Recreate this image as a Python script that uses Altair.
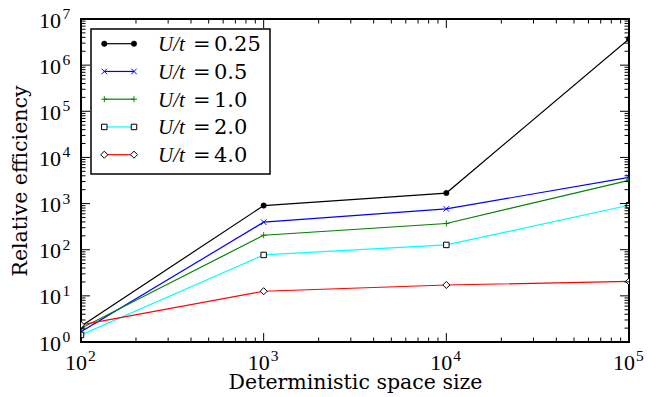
import altair as alt
import pandas as pd

# ---- data ----
x_vals = [100, 1000, 10000, 100000]
series_names = ["0.25", "0.5", "1.0", "2.0", "4.0"]
u025 = [2.2, 905, 1690, 3.7e6]
u05 = [1.67, 395, 767, 3700]
u10 = [1.98, 206, 370, 3200]
u20 = [1.42, 77, 127, 920]
u40 = [2.34, 12.6, 17.2, 20.5]
colors = ["#000000", "#0000ff", "#008000", "#00ffff", "#ff0000"]

x_major = [100, 1000, 10000, 100000]
x_exp = ["2", "3", "4", "5"]
y_major = [1, 10, 100, 1000, 10000, 100000, 1000000, 10000000]
y_exp = ["0", "1", "2", "3", "4", "5", "6", "7"]

x_minor = [m * d for d in x_major[:-1] for m in range(2, 10)]
y_minor = [m * d for d in y_major[:-1] for m in range(2, 10)]

W, H = 548, 323
SERIF = "DejaVu Serif, serif"
NUMF = "Liberation Serif, Times New Roman, serif"

rows = []
for name, vals in zip(series_names, [u025, u05, u10, u20, u40]):
    for xv, yv in zip(x_vals, vals):
        rows.append({"x": xv, "y": yv, "series": name})
df = pd.DataFrame(rows)

xs = alt.Scale(type="log", domain=[100, 100000], nice=False)
ys = alt.Scale(type="log", domain=[1, 10000000], nice=False)
cs = alt.Scale(domain=series_names, range=colors)

xaxis = alt.Axis(title="Deterministic space size", labels=False, ticks=False,
                 domain=False, grid=False, titleY=46, titleBaseline="alphabetic",
                 titleFont=SERIF, titleFontSize=20.5, titleFontWeight="normal",
                 titleColor="black")
yaxis = alt.Axis(title="Relative efficiency", labels=False, ticks=False,
                 domain=False, grid=False, titleX=-55, titleAngle=270,
                 titleBaseline="alphabetic", titleFont=SERIF, titleFontSize=20.5,
                 titleFontWeight="normal", titleColor="black")


def X(f):
    return alt.X(f + ":Q", scale=xs, axis=xaxis)


def Y(f):
    return alt.Y(f + ":Q", scale=ys, axis=yaxis)


base = alt.Chart(df)
lines = base.mark_line(strokeWidth=1.2, clip=True).encode(
    x=X("x"), y=Y("y"),
    color=alt.Color("series:N", scale=cs, legend=None),
    order=alt.Order("x:Q"),
)

XPATH = "M-1,-1L1,1M-1,1L1,-1"
PPATH = "M-1,0L1,0M0,-1L0,1"
marker_styles = {
    "0.25": dict(shape="circle", filled=True, fill="#000000", stroke="#000000", strokeWidth=0.5, size=30),
    "0.5": dict(shape=XPATH, filled=False, stroke="#0000ff", strokeWidth=1, size=30),
    "1.0": dict(shape=PPATH, filled=False, stroke="#008000", strokeWidth=1, size=36),
    "2.0": dict(shape="square", filled=True, fill="#ffffff", stroke="#000000", strokeWidth=1, size=30),
    "4.0": dict(shape="diamond", filled=True, fill="#ffffff", stroke="#000000", strokeWidth=1, size=50),
}

point_layers = []
for name in series_names:
    st = marker_styles[name]
    point_layers.append(
        base.transform_filter(alt.datum.series == name)
        .mark_point(opacity=1, clip=True, **st)
        .encode(x=X("x"), y=Y("y"))
    )


# ticks (inward, all four sides)
def xticks(vals, ln):
    d = alt.Chart(pd.DataFrame({"v": vals}))
    b = d.mark_rule(color="black", strokeWidth=1).encode(x=X("v"), y=alt.value(H), y2=alt.value(H - ln))
    t = d.mark_rule(color="black", strokeWidth=1).encode(x=X("v"), y=alt.value(0), y2=alt.value(ln))
    return [b, t]


def yticks(vals, ln):
    d = alt.Chart(pd.DataFrame({"v": vals}))
    l = d.mark_rule(color="black", strokeWidth=1).encode(y=Y("v"), x=alt.value(0), x2=alt.value(ln))
    r = d.mark_rule(color="black", strokeWidth=1).encode(y=Y("v"), x=alt.value(W), x2=alt.value(W - ln))
    return [l, r]


tick_layers = xticks(x_major, 9) + xticks(x_minor, 4.5) + yticks(y_major, 9) + yticks(y_minor, 4.5)

# tick labels 10^n
xl = alt.Chart(pd.DataFrame({"v": x_major, "e": x_exp}))
yl = alt.Chart(pd.DataFrame({"v": y_major, "e": y_exp}))
label_layers = [
    xl.mark_text(text="10", font=NUMF, fontSize=22, align="right", baseline="alphabetic", dx=6, color="black")
      .encode(x=X("v"), y=alt.value(H + 28)),
    xl.mark_text(font=NUMF, fontSize=15.5, align="left", baseline="alphabetic", dx=7, color="black")
      .encode(x=X("v"), y=alt.value(H + 19), text="e:N"),
    yl.mark_text(text="10", font=NUMF, fontSize=22, align="right", baseline="alphabetic", dy=8.5, color="black")
      .encode(y=Y("v"), x=alt.value(-20)),
    yl.mark_text(font=NUMF, fontSize=15.5, align="left", baseline="alphabetic", dy=0, color="black")
      .encode(y=Y("v"), x=alt.value(-18.5), text="e:N"),
]

main = alt.layer(lines, *point_layers, *tick_layers, *label_layers)

# ---- legend ----
leg_df = pd.DataFrame({"row": list(range(5)), "series": series_names})
leg_pts = pd.DataFrame([{"row": i, "series": s, "lx": lx}
                        for i, s in enumerate(series_names) for lx in (0, 1)])
ly = alt.Scale(domain=[0, 4], range=[24.7, 135.7])
lxs = alt.Scale(domain=[0, 1], range=[23.3, 53])
LY = alt.Y("row:Q", scale=ly, axis=None)

box = alt.Chart(pd.DataFrame({"a": [0]})).mark_rect(fill="white", stroke="black", strokeWidth=1.5).encode(
    x=alt.value(10), x2=alt.value(189), y=alt.value(10), y2=alt.value(155))
leg_lines = alt.Chart(leg_df).mark_rule(strokeWidth=1.2).encode(
    x=alt.value(23.3), x2=alt.value(53), y=LY,
    color=alt.Color("series:N", scale=cs, legend=None))
leg_marks = []
for name in series_names:
    st = marker_styles[name]
    leg_marks.append(
        alt.Chart(leg_pts).transform_filter(alt.datum.series == name)
        .mark_point(opacity=1, **st)
        .encode(x=alt.X("lx:Q", scale=lxs, axis=None), y=LY)
    )
leg_text = alt.Chart(leg_df)
leg_texts = [
    leg_text.mark_text(text="U/t", font=NUMF, fontStyle="italic", fontSize=21, align="left",
                       baseline="alphabetic", dy=7.5, color="black").encode(x=alt.value(77), y=LY),
    leg_text.mark_text(text="=", font=SERIF, fontSize=21, align="left",
                       baseline="alphabetic", dy=7.5, color="black").encode(x=alt.value(112), y=LY),
    leg_text.mark_text(font=SERIF, fontSize=21, align="left",
                       baseline="alphabetic", dy=7.5, color="black").encode(x=alt.value(133), y=LY, text="series:N"),
]
legend = alt.layer(box, leg_lines, *leg_marks, *leg_texts)

chart = (
    alt.layer(main, legend)
    .resolve_scale(x="independent", y="independent")
    .properties(width=W, height=H, padding={"left": 81, "top": 19, "right": 33, "bottom": 55},
                autosize=alt.AutoSizeParams(type="none"))
    .configure_view(stroke="black", strokeWidth=2)
)

chart.save("out.html", embed_options={"renderer": "svg", "actions": False})
